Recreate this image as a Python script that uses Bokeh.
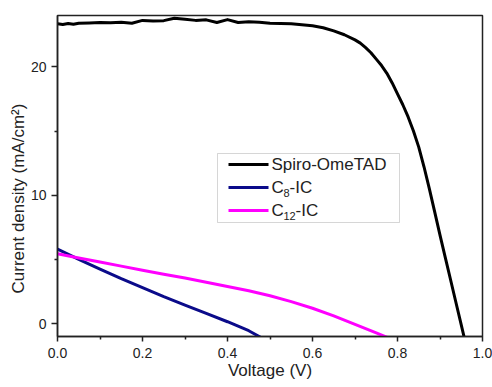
import math
from bokeh.plotting import figure
from bokeh.models import (Range1d, FixedTicker, Label, BoxAnnotation, Arrow,
                          Title, CustomJSTickFormatter)
from bokeh.embed import file_html
from bokeh.resources import INLINE

# ---- data ----
spiro_v = [0.0, 0.0125, 0.025, 0.0375, 0.05, 0.075, 0.1, 0.125, 0.15, 0.175,
           0.2, 0.225, 0.25, 0.275, 0.3, 0.325, 0.35, 0.375, 0.4, 0.425,
           0.45, 0.475, 0.5, 0.525, 0.55, 0.575, 0.6, 0.625, 0.65, 0.675,
           0.7, 0.7125, 0.725, 0.7375, 0.75, 0.7625, 0.775, 0.7875, 0.8,
           0.8125, 0.825, 0.8375, 0.85, 0.8625, 0.875, 0.8875, 0.9, 0.9125,
           0.925, 0.9375, 0.95, 0.96]
spiro_j = [23.35, 23.30, 23.38, 23.32, 23.40, 23.42, 23.45, 23.44, 23.48, 23.40,
           23.62, 23.58, 23.60, 23.78, 23.70, 23.62, 23.66, 23.45, 23.68, 23.45,
           23.52, 23.48, 23.40, 23.38, 23.35, 23.28, 23.20, 23.05, 22.80, 22.50,
           22.10, 21.85, 21.50, 21.10, 20.60, 20.10, 19.50, 18.75, 17.90,
           17.05, 16.10, 15.00, 13.75, 12.20, 10.50, 8.70, 6.90, 5.15,
           3.40, 1.65, -0.10, -1.50]

c8_v = [0.0, 0.05, 0.1, 0.15, 0.2, 0.25, 0.3, 0.35, 0.4, 0.45, 0.48]
c8_j = [5.80, 5.00, 4.25, 3.50, 2.80, 2.10, 1.45, 0.80, 0.15, -0.55, -1.1]

c12_v = [0.0, 0.05, 0.1, 0.15, 0.2, 0.25, 0.3, 0.35, 0.4, 0.45, 0.5, 0.55,
         0.6, 0.65, 0.7, 0.75, 0.78]
c12_j = [5.45, 5.12, 4.80, 4.48, 4.16, 3.85, 3.55, 3.22, 2.90, 2.56, 2.17, 1.72,
         1.20, 0.60, -0.05, -0.72, -1.12]

series_names = ["Spiro-OmeTAD", "C8-IC", "C12-IC"]
series_colors = ["black", "#0b0b8a", "#ff00ff"]

x_ticks = [0.0, 0.2, 0.4, 0.6, 0.8, 1.0]
x_minor = [0.1, 0.3, 0.5, 0.7, 0.9]
y_ticks = [0, 10, 20]
y_minor = [5, 15]

FONT = "Liberation Sans"
TXT = "#222222"

p = figure(width=492, height=387, output_backend="svg", toolbar_location=None,
           x_range=Range1d(0, 1.0), y_range=Range1d(-1, 24),
           min_border_left=57, min_border_right=10, min_border_top=15,
           min_border_bottom=51)
p.background_fill_color = "white"
p.border_fill_color = "white"
p.grid.visible = False
p.outline_line_color = TXT
p.outline_line_width = 1.5

p.line(spiro_v, spiro_j, line_color=series_colors[0], line_width=3, line_join="round")
p.line(c8_v, c8_j, line_color=series_colors[1], line_width=3, line_join="round")
p.line(c12_v, c12_j, line_color=series_colors[2], line_width=3, line_join="round")

for ax in (p.xaxis[0], p.yaxis[0]):
    ax.axis_line_width = 1.5
    ax.axis_line_color = TXT
    ax.major_tick_line_width = 1.5
    ax.minor_tick_line_width = 1.5
    ax.major_tick_line_color = TXT
    ax.minor_tick_line_color = TXT
    ax.major_tick_in = 0
    ax.minor_tick_in = 0
    ax.major_label_text_font = FONT
    ax.major_label_text_font_size = "14px"
    ax.major_label_text_color = TXT

p.xaxis.ticker = FixedTicker(ticks=x_ticks, minor_ticks=x_minor)
p.yaxis.ticker = FixedTicker(ticks=y_ticks, minor_ticks=y_minor)
p.xaxis.formatter = CustomJSTickFormatter(code="return tick.toFixed(1);")
p.xaxis.major_tick_out = 5
p.xaxis.minor_tick_out = 3
p.xaxis.major_label_standoff = 6
p.yaxis.major_tick_out = 6
p.yaxis.minor_tick_out = 3
p.yaxis.major_label_standoff = 5

p.xaxis.axis_label = "Voltage (V)"
p.xaxis.axis_label_text_font = FONT
p.xaxis.axis_label_text_font_size = "17px"
p.xaxis.axis_label_text_font_style = "normal"
p.xaxis.axis_label_text_color = TXT
p.xaxis.axis_label_standoff = 0

# y axis title (as a side title so it can sit a little below the centre)
ytitle = Title(text="Current density (mA/cm²)", align="left", offset=43,
               text_font=FONT, text_font_size="17px", text_font_style="normal",
               text_color=TXT, standoff=0)
p.add_layout(ytitle, "left")


def lab(x, y, text, size="17px", align="left", angle=0.0):
    l = Label(x=x, y=y, x_units="canvas", y_units="canvas", text=text,
              angle=angle, text_align=align, text_baseline="middle",
              text_font=FONT, text_font_size=size, text_color=TXT)
    p.add_layout(l)
    return l

# legend (drawn by hand so the subscripts look right)
p.add_layout(BoxAnnotation(left=217, right=399, top=153, bottom=222,
                           left_units="canvas", right_units="canvas",
                           top_units="canvas", bottom_units="canvas",
                           fill_color="white", fill_alpha=1,
                           line_color="#777777", line_width=1))
rows = [164, 187, 210]
for yy, col in zip(rows, series_colors):
    p.add_layout(Arrow(x_start=228, y_start=yy, x_end=268, y_end=yy,
                       start_units="canvas", end_units="canvas",
                       start=None, end=None, line_color=col, line_width=3))
lab(271, rows[0], "Spiro-OmeTAD")
lab(271, rows[1], "C")
lab(283, rows[1] + 5, "8", size="11px")
lab(289, rows[1], "-IC")
lab(271, rows[2], "C")
lab(283, rows[2] + 5, "12", size="11px")
lab(295, rows[2], "-IC")

open("out.html", "w").write(file_html(p, INLINE))
